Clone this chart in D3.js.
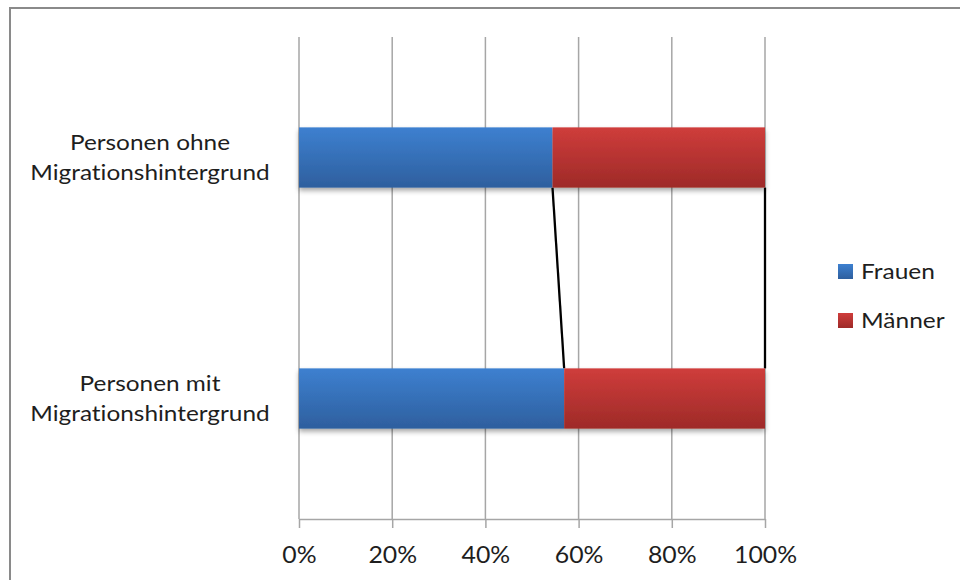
<!DOCTYPE html>
<html>
<head>
<meta charset="utf-8">
<script src="https://cdn.jsdelivr.net/npm/d3@7"></script>
<style>
  html, body { margin: 0; padding: 0; background: #fff; }
  svg { display: block; }
  text { font-family: Lato, "Open Sans", sans-serif; fill: #1e1e1e; font-variant-ligatures: none; font-feature-settings: "liga" 0; }
</style>
</head>
<body>
<svg id="chart" width="960" height="580"></svg>
<script>
// Anteil von Frauen und Männern (in %), je Personengruppe
const categories = [
  ["Personen ohne", "Migrationshintergrund"],
  ["Personen mit", "Migrationshintergrund"]
];
const categoryKeys = ["ohne", "mit"];
const seriesNames = ["Frauen", "Männer"];
const frauen = [54.4, 56.9];
const maenner = [45.6, 43.1];
const tickValues = [0, 20, 40, 60, 80, 100];
const tickLabels = ["0%", "20%", "40%", "60%", "80%", "100%"];

const svg = d3.select("#chart");

// outer frame
svg.append("path")
  .attr("d", "M10,580 L10,8 L960,8")
  .attr("fill", "none")
  .attr("stroke", "#8a8a8a")
  .attr("stroke-width", 2);

const plot = { left: 299, right: 765, top: 37, bottom: 519 };

const x = d3.scaleLinear().domain([0, 100]).range([plot.left, plot.right]);
const y = d3.scaleBand().domain(categoryKeys).range([plot.top, plot.bottom])
  .paddingInner(0.75).paddingOuter(0.375);

const defs = svg.append("defs");
// vertical shading of the bars
const grads = [
  ["gradFrauen", "#3d80d0", "#2e5f9e"],
  ["gradMaenner", "#cf3d3b", "#9e2a28"]
];
grads.forEach(([id, c1, c2]) => {
  const g = defs.append("linearGradient").attr("id", id)
    .attr("x1", 0).attr("y1", 0).attr("x2", 0).attr("y2", 1);
  g.append("stop").attr("offset", "0%").attr("stop-color", c1);
  g.append("stop").attr("offset", "100%").attr("stop-color", c2);
});
const shadow = defs.append("filter").attr("id", "shadow")
  .attr("x", "-5%").attr("y", "-20%").attr("width", "110%").attr("height", "150%");
shadow.append("feDropShadow").attr("dx", 0).attr("dy", 3)
  .attr("stdDeviation", 2.5).attr("flood-color", "#000").attr("flood-opacity", 0.35);

// text is drawn slightly widened horizontally
const stretch = 1.16;

// gridlines + axis
const xAxis = d3.axisBottom(x)
  .tickValues(tickValues)
  .tickFormat((d, i) => tickLabels[i])
  .tickSize(9)
  .tickSizeOuter(0);

svg.append("g")
  .selectAll("line")
  .data(tickValues)
  .join("line")
  .attr("x1", d => x(d)).attr("x2", d => x(d))
  .attr("y1", plot.top).attr("y2", plot.bottom)
  .attr("stroke", "#a6a6a6").attr("stroke-width", 1.5);

const ax = svg.append("g")
  .attr("transform", `translate(0,${plot.bottom})`)
  .call(xAxis);
ax.select(".domain").attr("stroke", "#a6a6a6").attr("stroke-width", 1.5);
ax.selectAll(".tick line").attr("stroke", "#a6a6a6").attr("stroke-width", 1.5);
ax.selectAll(".tick text")
  .attr("y", 0)
  .attr("dy", 0)
  .attr("transform", `translate(0,44) scale(${stretch * 0.93},1)`)
  .style("font-family", "Lato, sans-serif")
  .style("font-size", "23px")
  .attr("fill", "#1e1e1e");

// stacked data
const rows = categoryKeys.map((k, i) => ({ key: k, Frauen: frauen[i], "Männer": maenner[i] }));
const stacked = d3.stack().keys(seriesNames)(rows);

// series lines between the bars
const lineG = svg.append("g");
stacked.forEach(layer => {
  const a = layer[0], b = layer[1];
  lineG.append("line")
    .attr("x1", x(a[1])).attr("y1", y(categoryKeys[0]) + y.bandwidth())
    .attr("x2", x(b[1])).attr("y2", y(categoryKeys[1]))
    .attr("stroke", "#000").attr("stroke-width", 2.3);
});

// bars
const barsG = svg.append("g").attr("filter", "url(#shadow)");
stacked.forEach((layer, si) => {
  barsG.append("g")
    .selectAll("rect")
    .data(layer)
    .join("rect")
    .attr("x", d => x(d[0]))
    .attr("width", d => x(d[1]) - x(d[0]))
    .attr("y", d => y(d.data.key))
    .attr("height", y.bandwidth())
    .attr("fill", `url(#${grads[si][0]})`);
});

// category labels
const catG = svg.append("g");
categoryKeys.forEach((k, i) => {
  const cy = y(k) + y.bandwidth() / 2;
  const t = catG.append("text")
    .attr("text-anchor", "middle")
    .attr("transform", `translate(150,${cy}) scale(${stretch},1)`)
    .style("font-size", "21px");
  t.append("tspan").attr("x", 0).attr("y", -8).text(categories[i][0]);
  t.append("tspan").attr("x", 0).attr("y", 23).text(categories[i][1]);
});

// legend
const legend = svg.append("g").attr("transform", "translate(838,264)");
seriesNames.forEach((name, i) => {
  const g = legend.append("g").attr("transform", `translate(0,${i * 49})`);
  g.append("rect").attr("width", 15).attr("height", 15)
    .attr("fill", `url(#${grads[i][0]})`);
  g.append("text")
    .attr("transform", `translate(23,15) scale(${stretch * 0.96},1)`)
    .style("font-size", "22px")
    .text(name);
});
</script>
</body>
</html>
